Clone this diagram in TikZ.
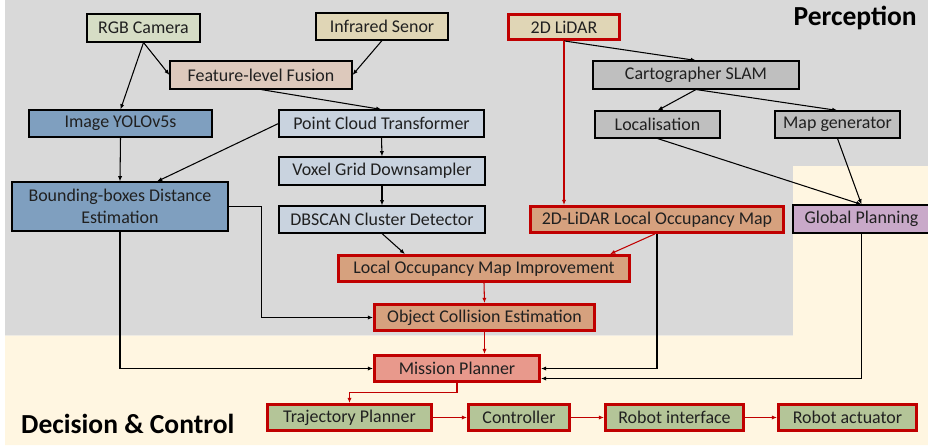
\documentclass[tikz,border=0pt]{standalone}
\usepackage{fontspec}
\setmainfont{Carlito}
\usetikzlibrary{arrows.meta,calc}

\definecolor{bggray}{HTML}{D9D9D9}
\definecolor{bgcream}{HTML}{FFF6E1}
\definecolor{darkred}{HTML}{C00000}
\definecolor{sage}{HTML}{D6DDC5}
\definecolor{tan}{HTML}{E0D6B6}
\definecolor{blush}{HTML}{DDC9BC}
\definecolor{midgray}{HTML}{BFBFBF}
\definecolor{steel}{HTML}{7F9FBF}
\definecolor{paleblue}{HTML}{C9D3DF}
\definecolor{clay}{HTML}{D6A17E}
\definecolor{lilac}{HTML}{C9A9C9}
\definecolor{salmon}{HTML}{E8998C}
\definecolor{olive}{HTML}{B4C598}
\definecolor{ink}{HTML}{202020}

\tikzset{
  box/.style n args={2}{draw=black, line width=0.9pt, inner sep=0pt,
    minimum width=#1*0.03cm, minimum height=#2*0.03cm, text=ink,
    font=\fontsize{15.3}{18.5}\selectfont, align=center},
  hot/.style={draw=darkred, line width=2.4pt},
  link/.style={draw=black, line width=0.9pt, -{Latex[length=4.5pt,width=3.6pt]}},
  rlink/.style={draw=darkred, line width=0.9pt, -{Latex[length=4.5pt,width=3.6pt]}},
  heading/.style={font=\fontsize{23.5}{26}\selectfont\bfseries, text=black, inner sep=0pt}
}

\begin{document}
\begin{tikzpicture}[x=0.03cm, y=-0.03cm]
\useasboundingbox (0,0) rectangle (928,445);
% background zones
\fill[white] (0,0) rectangle (928,445);
\fill[bggray] (5,0) -- (928,0) -- (928,166) -- (793,166) -- (793,335.5) -- (5,335.5) -- cycle;
\fill[bgcream] (5,335.5) -- (793,335.5) -- (793,166) -- (928,166) -- (928,445) -- (5,445) -- cycle;

\node[heading, anchor=east] (hperc) at (917,18) {Perception};
\node[heading, anchor=west] (hdec) at (21,424) {Decision \& Control};

% sensors and fusion
\node[box={113}{28}, fill=sage] (rgb) at (143.5,28) {RGB Camera};
\node[box={132}{27}, fill=tan] (ir) at (382,26.5) {Infrared Senor};
\node[box={111}{25}, fill=tan, hot] (lidar) at (564,27) {2D LiDAR};
\node[box={182}{28}, fill=blush] (fus) at (261,75) {Feature-level Fusion};

% SLAM branch
\node[box={206}{28}, fill=midgray] (slam) at (696,75) {Cartographer SLAM};
\node[box={125}{27}, fill=midgray] (loc) at (657.5,124.5) {Localisation};
\node[box={125}{27}, fill=midgray] (mapg) at (837.5,124.5) {Map generator};

% vision and point-cloud branch
\node[box={183}{27}, fill=steel] (yolo) at (120.5,123.5) {Image YOLOv5s};
\node[box={205}{27}, fill=paleblue] (pct) at (381.5,123.5) {Point Cloud Transformer};
\node[box={216}{49}, fill=steel] (bbd) at (120,206.5) {Bounding-boxes Distance\\Estimation};
\node[box={206}{28}, fill=paleblue] (vox) at (382,171) {Voxel Grid Downsampler};
\node[box={206}{27}, fill=paleblue] (dbs) at (382,219.5) {DBSCAN Cluster Detector};

% occupancy and collision
\node[box={253}{26}, fill=clay, hot] (lom2) at (657,219.5) {2D-LiDAR Local Occupancy Map};
\node[box={137}{28}, fill=lilac] (glob) at (861.5,219) {Global Planning};
\node[box={291}{26}, fill=clay, hot] (lomi) at (484,268.5) {Local Occupancy Map Improvement};
\node[box={220}{26}, fill=clay, hot] (oce) at (484.5,317.5) {Object Collision Estimation};

% decision and control
\node[box={165}{26}, fill=salmon, hot] (mp) at (457,368.5) {Mission Planner};
\node[box={164}{26}, fill=olive, hot] (traj) at (349.5,417.5) {Trajectory Planner};
\node[box={101}{26}, fill=olive, hot] (ctrl) at (519,417.5) {Controller};
\node[box={138}{26}, fill=olive, hot] (rint) at (674.5,417.5) {Robot interface};
\node[box={138}{26}, fill=olive, hot] (ract) at (847.5,417.5) {Robot actuator};

% black connectors
\draw[link] (rgb.south) -- (yolo.north);
\draw[link] (rgb.south) -- (fus.west);
\draw[link] (ir.south) -- (fus.east);
\draw[link] (fus.south) -- (pct.north);
\draw[link] (yolo.south) -- (bbd.north);
\draw[link] (pct.west) -- ($(bbd.north)+(37,0)$);
\draw[link] (pct.south) -- (vox.north);
\draw[link] (vox.south) -- (dbs.north);
\draw[link] (dbs.south) -- ($(lomi.north)+(-79,0)$);
\draw[link] (lidar.south) -- (slam.north);
\draw[link] (slam.south) -- (loc.north);
\draw[link] (slam.south) -- (mapg.north);
\draw[link] (loc.south) -- (glob.north);
\draw[link] (mapg.south) -- (glob.north);
\draw[link] (bbd.east) -- ++(33,0) |- (oce.west);
\draw[link] (bbd.south) |- (mp.west);
\draw[link] (lom2.south) |- (mp.east);
\draw[link] (glob.south) |- ($(mp.east)+(0,10)$);

% red connectors
\draw[rlink] (lidar.south) -- (lidar.south |- lom2.north);
\draw[rlink] ($(lom2.south)+(-2,0)$) -- ($(lomi.north east)+(-21,0)$);
\draw[rlink] (lomi.south) -- (oce.north);
\draw[rlink] (oce.south) -- (oce.south |- mp.north);
\draw[rlink] (mp.south) -- ++(0,10) -| (traj.north);
\draw[rlink] (traj.east) -- (ctrl.west);
\draw[rlink] (ctrl.east) -- (rint.west);
\draw[rlink] (rint.east) -- (ract.west);
\end{tikzpicture}
\end{document}
